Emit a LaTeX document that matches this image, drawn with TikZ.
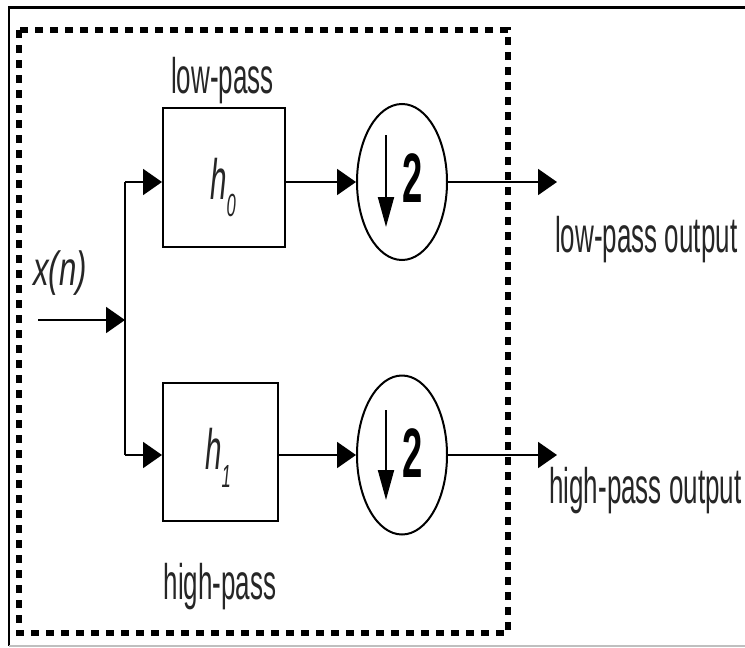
\documentclass[tikz,border=0pt]{standalone}
\usepackage{fontspec}
\setmainfont{Liberation Sans}
\newfontfamily\narrowfont[FakeStretch=0.52]{Liberation Sans}
\newfontfamily\midfont[FakeStretch=0.65]{Liberation Sans}
\usetikzlibrary{arrows.meta,shapes.geometric}

\tikzset{
  filt/.style={draw, line width=2pt, minimum width=122pt, minimum height=139pt, inner sep=0pt},
  dsamp/.style={draw, ellipse, line width=2pt, minimum width=90pt, minimum height=156pt, inner sep=0pt},
  sig/.style={line width=2pt, -{Triangle[length=19pt,width=26pt]}},
  dn/.style={line width=2pt, -{Triangle[length=30pt,width=16pt]}},
  lbl/.style={font=\narrowfont\fontsize{50}{50}\selectfont, inner sep=0pt, text=black!85},
  two/.style={font=\narrowfont\bfseries\fontsize{70}{70}\selectfont, inner sep=0pt, anchor=base},
}

\begin{document}
\begin{tikzpicture}[x=1pt,y=-1pt]
  \useasboundingbox (0,0) rectangle (745,648);

  % Frame
  \draw[line width=3pt] (8,7) -- (745,7);
  \draw[line width=2pt] (9,6) -- (9,646);
  \draw[gray!50, line width=1.5pt] (9,646) -- (745,646);

  % Dotted box
  \draw[line width=6pt, dash pattern=on 8pt off 7pt] (19,30) rectangle (508,633);

  % Filters
  \node[filt] (h0) at (224,177.5) {};
  \node[filt, minimum width=115pt, minimum height=138pt] (h1) at (220.5,452) {};
  \node[lbl, anchor=base west, font=\narrowfont\itshape\fontsize{57}{57}\selectfont] (h0txt) at (210,199)
    {h\raisebox{-17pt}{\fontsize{32}{32}\selectfont 0}};
  \node[lbl, anchor=base west, font=\narrowfont\itshape\fontsize{57}{57}\selectfont] (h1txt) at (205,469)
    {h\raisebox{-18pt}{\fontsize{32}{32}\selectfont 1}};

  % Downsamplers
  \node[dsamp] (d0) at (402,182) {};
  \node[dsamp, minimum height=159pt] (d1) at (402,455) {};
  \node[two] (d0txt) at (412.5,202) {2};
  \node[two] (d1txt) at (412.5,477) {2};
  \draw[dn] (386,135) -- (386,227);
  \draw[dn] (386,410) -- (386,500);

  % Branch points
  \coordinate (xin) at (38,320);
  \coordinate (split) at (125,320);
  \coordinate (br0) at (125,182);
  \coordinate (br1) at (125,455);
  \coordinate (o0) at (557,182);
  \coordinate (o1) at (557,455);

  % Signal lines
  \draw[sig] (xin) -- (split);
  \draw[line width=2pt] (br0) -- (br1);
  \draw[sig] (br0) -- (br0 -| h0.west);
  \draw[sig] (br1) -- (br1 -| h1.west);
  \draw[sig] (d0 -| h0.east) -- (d0.west);
  \draw[sig] (d1 -| h1.east) -- (d1.west);
  \draw[sig] (d0.east) -- (o0);
  \draw[sig] (d1.east) -- (o1);

  % Labels
  \node[lbl, anchor=base west, font=\midfont\itshape\fontsize{48}{48}\selectfont] (xn) at (33,285) {x(n)};
  \node[lbl, anchor=base] (lp) at (222.5,93) {low-pass};
  \node[lbl, anchor=base] (hp) at (220,599) {high-pass};
  \node[lbl, anchor=base west] (lpout) at (555,252) {low-pass output};
  \node[lbl, anchor=base west] (hpout) at (549,503) {high-pass output};
\end{tikzpicture}
\end{document}
